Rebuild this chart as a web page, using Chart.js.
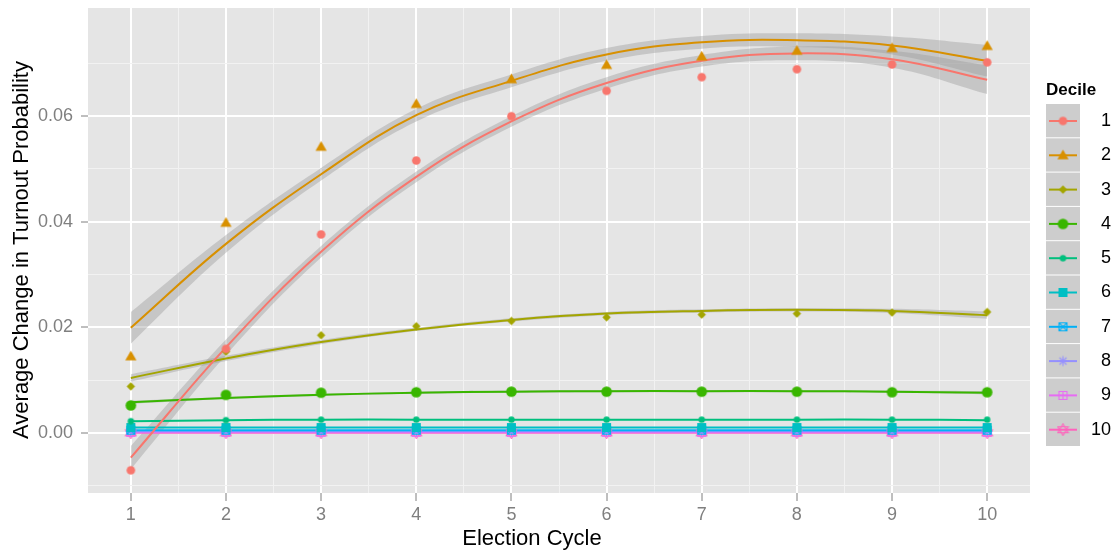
<!DOCTYPE html>
<html>
<head>
  <title>Average Change in Turnout Probability</title>
  <script src="https://cdn.jsdelivr.net/npm/chart.js"></script>
  <style>
    body { margin: 0; background: #ffffff; }
    #wrap { width: 1114px; height: 553px; }
  </style>
</head>
<body>
  <div id="wrap"><canvas id="chart"></canvas></div>

  <script>
    // data
    const cycles = [1, 2, 3, 4, 5, 6, 7, 8, 9, 10];
    const deciles = ['1', '2', '3', '4', '5', '6', '7', '8', '9', '10'];

    const obs1 = [-0.0071, 0.0159, 0.0376, 0.0516, 0.0600, 0.0648, 0.0674, 0.0689, 0.0698, 0.0702];
    const obs2 = [0.0145, 0.0398, 0.0542, 0.0623, 0.0670, 0.0697, 0.0713, 0.0724, 0.0729, 0.0733];
    const obs3 = [0.0088, 0.0154, 0.0185, 0.0202, 0.0212, 0.0219, 0.0224, 0.0226, 0.0228, 0.0229];
    const obs4 = [0.0052, 0.0072, 0.0076, 0.0077, 0.0078, 0.0078, 0.0078, 0.0078, 0.0077, 0.0077];
    const obs5 = [0.0022, 0.0024, 0.0025, 0.0025, 0.0025, 0.0025, 0.0025, 0.0025, 0.0025, 0.0025];
    const obs6 = [0.0010, 0.0010, 0.0010, 0.0010, 0.0010, 0.0010, 0.0010, 0.0010, 0.0010, 0.0010];
    const obs7 = [0.0005, 0.0005, 0.0005, 0.0005, 0.0005, 0.0005, 0.0005, 0.0005, 0.0005, 0.0005];
    const obs8 = [0.0003, 0.0003, 0.0003, 0.0003, 0.0003, 0.0003, 0.0003, 0.0003, 0.0003, 0.0003];
    const obs9 = [0.0001, 0.0001, 0.0001, 0.0001, 0.0001, 0.0001, 0.0001, 0.0001, 0.0001, 0.0001];
    const obs10 = [0.0000, 0.0000, 0.0000, 0.0000, 0.0000, 0.0000, 0.0000, 0.0000, 0.0000, 0.0000];

    // smoothed fits
    const fit1 = [-0.0047, 0.0162, 0.0343, 0.0485, 0.0590, 0.0663, 0.0705, 0.0719, 0.0708, 0.0669];
    const fit2 = [0.0199, 0.0358, 0.0490, 0.0602, 0.0667, 0.0717, 0.0740, 0.0744, 0.0734, 0.0705];
    const fit3 = [0.0104, 0.0141, 0.0172, 0.0196, 0.0214, 0.0226, 0.0231, 0.0233, 0.0231, 0.0223];
    const fit4 = [0.0058, 0.0066, 0.0072, 0.0076, 0.0078, 0.0079, 0.0079, 0.0079, 0.0078, 0.0076];
    const fit5 = [0.0022, 0.0024, 0.0025, 0.0025, 0.0025, 0.0025, 0.0025, 0.0025, 0.0025, 0.0024];
    const fit6 = [0.0010, 0.0010, 0.0010, 0.0010, 0.0010, 0.0010, 0.0010, 0.0010, 0.0010, 0.0010];
    const fit7 = [0.0005, 0.0005, 0.0005, 0.0005, 0.0005, 0.0005, 0.0005, 0.0005, 0.0005, 0.0005];
    const fit8 = [0.0003, 0.0003, 0.0003, 0.0003, 0.0003, 0.0003, 0.0003, 0.0003, 0.0003, 0.0003];
    const fit9 = [0.0001, 0.0001, 0.0001, 0.0001, 0.0001, 0.0001, 0.0001, 0.0001, 0.0001, 0.0001];
    const fit10 = [0.0000, 0.0000, 0.0000, 0.0000, 0.0000, 0.0000, 0.0000, 0.0000, 0.0000, 0.0000];

    // confidence bands (only visible ones)
    const lo1 = [-0.0069, 0.0147, 0.0332, 0.0475, 0.0580, 0.0652, 0.0694, 0.0706, 0.0692, 0.0642];
    const hi1 = [-0.0025, 0.0177, 0.0354, 0.0495, 0.0600, 0.0674, 0.0716, 0.0732, 0.0724, 0.0696];
    const lo2 = [0.0169, 0.0341, 0.0478, 0.0590, 0.0655, 0.0705, 0.0728, 0.0731, 0.0717, 0.0675];
    const hi2 = [0.0229, 0.0375, 0.0502, 0.0614, 0.0679, 0.0729, 0.0752, 0.0757, 0.0751, 0.0735];
    const lo3 = [0.0097, 0.0136, 0.0168, 0.0193, 0.0211, 0.0223, 0.0228, 0.0230, 0.0227, 0.0216];
    const hi3 = [0.0111, 0.0146, 0.0176, 0.0199, 0.0217, 0.0229, 0.0234, 0.0236, 0.0235, 0.0230];
    const lo4 = [0.0055, 0.0064, 0.0070, 0.0074, 0.0076, 0.0077, 0.0077, 0.0077, 0.0076, 0.0073];
    const hi4 = [0.0061, 0.0068, 0.0074, 0.0078, 0.0080, 0.0081, 0.0081, 0.0081, 0.0080, 0.0079];

    const xBreaks = [1, 1.5, 2, 2.5, 3, 3.5, 4, 4.5, 5, 5.5, 6, 6.5, 7, 7.5, 8, 8.5, 9, 9.5, 10];
    const xLabels = ['1', '', '2', '', '3', '', '4', '', '5', '', '6', '', '7', '', '8', '', '9', '', '10'];
    const yBreaks = [-0.01, 0, 0.01, 0.02, 0.03, 0.04, 0.05, 0.06, 0.07];
    const yLabels = ['', '0.00', '', '0.02', '', '0.04', '', '0.06', ''];
    const xTitle = 'Election Cycle';
    const yTitle = 'Average Change in Turnout Probability';
    const legendTitle = 'Decile';

    const observed = [obs1, obs2, obs3, obs4, obs5, obs6, obs7, obs8, obs9, obs10];
    const fitted = [fit1, fit2, fit3, fit4, fit5, fit6, fit7, fit8, fit9, fit10];
    const bands = [[lo1, hi1], [lo2, hi2], [lo3, hi3], [lo4, hi4]];

    const colors = ['#F8766D', '#D89000', '#A3A500', '#39B600', '#00BF7D',
                    '#00BFC4', '#00B0F6', '#9590FF', '#E76BF3', '#FF62BC'];
    const FONT = '"Liberation Sans", Arial, sans-serif';

    // marker images, ggplot shapes 16,17,18,19,20,15,7,8,12,11
    function marker(i, color) {
      const c = document.createElement('canvas');
      c.width = 13; c.height = 13;
      const g = c.getContext('2d');
      const m = 6.5;
      g.fillStyle = color; g.strokeStyle = color; g.lineWidth = 1.1;
      g.beginPath();
      if (i === 0) { g.arc(m, m, 4.3, 0, Math.PI * 2); g.fill(); }
      else if (i === 1) { g.moveTo(m, 0.8); g.lineTo(0.9, 10.4); g.lineTo(12.1, 10.4); g.closePath(); g.fill(); }
      else if (i === 2) { g.moveTo(m, 2.3); g.lineTo(m + 4.2, m); g.lineTo(m, m + 4.2); g.lineTo(m - 4.2, m); g.closePath(); g.fill(); }
      else if (i === 3) { g.arc(m, m, 5.3, 0, Math.PI * 2); g.fill(); }
      else if (i === 4) { g.arc(m, m, 3.2, 0, Math.PI * 2); g.fill(); }
      else if (i === 5) { g.fillRect(2, 2, 9, 9); }
      else if (i === 6) {
        g.rect(2.5, 2.5, 8, 8); g.moveTo(2.5, 2.5); g.lineTo(10.5, 10.5); g.moveTo(10.5, 2.5); g.lineTo(2.5, 10.5); g.stroke();
      } else if (i === 7) {
        g.moveTo(m, 1.5); g.lineTo(m, 11.5); g.moveTo(1.5, m); g.lineTo(11.5, m);
        g.moveTo(3, 3); g.lineTo(10, 10); g.moveTo(10, 3); g.lineTo(3, 10); g.stroke();
      } else if (i === 8) {
        g.rect(2.5, 2.5, 8, 8); g.moveTo(m, 2.5); g.lineTo(m, 10.5); g.moveTo(2.5, m); g.lineTo(10.5, m); g.stroke();
      } else {
        g.moveTo(m, 0.8); g.lineTo(1.3, 9.5); g.lineTo(11.7, 9.5); g.closePath();
        g.moveTo(m, 12.2); g.lineTo(1.3, 3.5); g.lineTo(11.7, 3.5); g.closePath(); g.stroke();
      }
      return c;
    }
    const markers = colors.map((c, i) => marker(i, c));

    const pts = arr => cycles.map((c, i) => ({ x: c, y: arr[i] }));

    const datasets = [];
    bands.forEach((b, i) => {
      datasets.push({ data: pts(b[1]), fill: '+1', backgroundColor: 'rgba(153,153,153,0.4)',
        borderWidth: 0, pointRadius: 0, tension: 0.4, order: 3 });
      datasets.push({ data: pts(b[0]), fill: false, borderWidth: 0, pointRadius: 0, tension: 0.4, order: 3 });
    });
    fitted.forEach((f, i) => {
      datasets.push({ label: deciles[i], data: pts(f), borderColor: colors[i], borderWidth: 2,
        pointRadius: 0, tension: 0.4, fill: false, order: 2 });
    });
    observed.forEach((o, i) => {
      datasets.push({ label: deciles[i], data: pts(o), showLine: false, pointStyle: markers[i],
        pointRadius: 6, order: 1 });
    });

    const panelPlugin = {
      id: 'panel',
      beforeDraw(chart) {
        const { ctx, chartArea: a } = chart;
        ctx.save();
        ctx.fillStyle = '#E5E5E5';
        ctx.fillRect(a.left, a.top, a.right - a.left, a.bottom - a.top);
        ctx.restore();
      },
      afterDraw(chart) {
        const ctx = chart.ctx;
        ctx.save();
        ctx.fillStyle = '#000000';
        ctx.textBaseline = 'middle';

        // axis titles
        ctx.font = '22px ' + FONT;
        ctx.textAlign = 'center';
        ctx.fillText(xTitle, 532, 539);
        ctx.save();
        ctx.translate(22, 250);
        ctx.rotate(-Math.PI / 2);
        ctx.fillText(yTitle, 0, 0);
        ctx.restore();

        // legend
        ctx.font = 'bold 17px ' + FONT;
        ctx.textAlign = 'left';
        ctx.fillText(legendTitle, 1046, 90);
        ctx.font = '18px ' + FONT;
        deciles.forEach((d, i) => {
          const y0 = 104 + i * 34.3;
          const cy = y0 + 17;
          ctx.fillStyle = '#CDCDCD';
          ctx.fillRect(1046, y0, 34, 33.3);
          ctx.strokeStyle = colors[i];
          ctx.lineWidth = 2;
          ctx.beginPath(); ctx.moveTo(1049, cy); ctx.lineTo(1077, cy); ctx.stroke();
          ctx.drawImage(markers[i], 1063 - 6.5, cy - 6.5);
          ctx.fillStyle = '#000000';
          ctx.textAlign = 'right';
          ctx.fillText(d, 1111, cy);
        });
        ctx.restore();
      }
    };

    const isMajor = (labels, c) => labels[c.index] !== undefined && labels[c.index] !== '';

    new Chart(document.getElementById('chart'), {
      type: 'line',
      data: { datasets },
      plugins: [panelPlugin],
      options: {
        responsive: true,
        maintainAspectRatio: false,
        animation: false,
        events: [],
        layout: { padding: { top: 8, right: 84, left: 0, bottom: 0 } },
        plugins: { legend: { display: false }, tooltip: { enabled: false } },
        scales: {
          x: {
            type: 'linear', min: 0.55, max: 10.45,
            afterBuildTicks: s => { s.ticks = xBreaks.map(v => ({ value: v })); },
            afterFit: s => { s.height = 60; s.paddingLeft = 0; s.paddingRight = 0; },
            border: { display: false },
            grid: {
              color: c => isMajor(xLabels, c) ? '#FFFFFF' : '#F2F2F2',
              lineWidth: c => isMajor(xLabels, c) ? 2 : 1,
              tickColor: c => isMajor(xLabels, c) ? '#7F7F7F' : 'rgba(0,0,0,0)',
              tickWidth: 1, tickLength: 8
            },
            ticks: {
              autoSkip: false, maxRotation: 0, padding: 3, color: '#7F7F7F',
              font: { size: 18, family: FONT },
              callback: (v, i) => xLabels[i]
            }
          },
          y: {
            type: 'linear', min: -0.0114, max: 0.0805,
            afterBuildTicks: s => { s.ticks = yBreaks.map(v => ({ value: v })); },
            afterFit: s => { s.width = 88; s.paddingTop = 0; s.paddingBottom = 0; },
            border: { display: false },
            grid: {
              color: c => isMajor(yLabels, c) ? '#FFFFFF' : '#F2F2F2',
              lineWidth: c => isMajor(yLabels, c) ? 2 : 1,
              tickColor: c => isMajor(yLabels, c) ? '#7F7F7F' : 'rgba(0,0,0,0)',
              tickWidth: 1, tickLength: 7
            },
            ticks: {
              autoSkip: false, padding: 8, color: '#7F7F7F',
              font: { size: 18, family: FONT },
              callback: (v, i) => yLabels[i]
            }
          }
        }
      }
    });
  </script>
</body>
</html>
